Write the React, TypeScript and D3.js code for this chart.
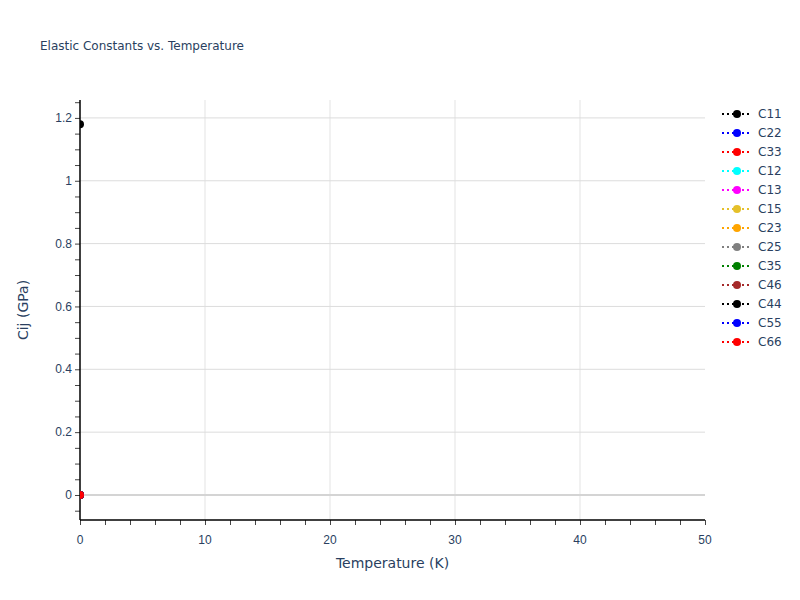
import React, { useEffect, useRef } from 'react';
import * as d3 from 'd3';

// series names and colours, one point per series at T = 0
const seriesNames = ['C11', 'C22', 'C33', 'C12', 'C13', 'C15', 'C23', 'C25', 'C35', 'C46', 'C44', 'C55', 'C66'];
const seriesColors = ['black', 'blue', 'red', 'cyan', 'magenta', '#e5c02a', 'orange', 'gray', 'green', 'brown', 'black', 'blue', 'red'];
const temperatures = [0];
const seriesValues = [[1.18], [0], [0], [0], [0], [0], [0], [0], [0], [0], [0], [0], [0]];
const xTicks = [0, 10, 20, 30, 40, 50];
const yTicks = [0, 0.2, 0.4, 0.6, 0.8, 1, 1.2];

const App: React.FC = () => {
  const svgRef = useRef<SVGSVGElement>(null);

  useEffect(() => {
    if (!svgRef.current) return;
    const width = 800;
    const height = 600;
    const margin = { left: 80, right: 95, top: 100, bottom: 80 };
    const font = '"DejaVu Sans", Verdana, sans-serif';
    const textColor = '#2a3f5f';

    const svg = d3.select(svgRef.current);
    svg.selectAll('*').remove();
    svg.attr('width', width).attr('height', height).style('font-family', font);

    svg.append('rect').attr('width', width).attr('height', height).attr('fill', 'white');

    const x = d3.scaleLinear().domain([0, 50]).range([margin.left, width - margin.right]);
    const y = d3.scaleLinear().domain([-0.0796, 1.257]).range([height - margin.bottom, margin.top]);

    // Title
    svg
      .append('text')
      .attr('x', 40)
      .attr('y', 50)
      .attr('font-size', '12px')
      .attr('fill', textColor)
      .text('Elastic Constants vs. Temperature');

    // Grid
    svg
      .append('g')
      .selectAll('line')
      .data(xTicks.filter(d => d > 0 && d < 50))
      .enter()
      .append('line')
      .attr('x1', d => x(d))
      .attr('x2', d => x(d))
      .attr('y1', margin.top)
      .attr('y2', height - margin.bottom)
      .attr('stroke', '#e3e3e3')
      .attr('stroke-width', 1);

    svg
      .append('g')
      .selectAll('line')
      .data(yTicks.filter(d => d !== 0))
      .enter()
      .append('line')
      .attr('x1', margin.left)
      .attr('x2', width - margin.right)
      .attr('y1', d => y(d))
      .attr('y2', d => y(d))
      .attr('stroke', '#dcdcdc')
      .attr('stroke-width', 1);

    // zero line
    svg
      .append('line')
      .attr('x1', margin.left)
      .attr('x2', width - margin.right)
      .attr('y1', y(0))
      .attr('y2', y(0))
      .attr('stroke', '#d4d4d4')
      .attr('stroke-width', 2);

    // Axes
    const xAxis = svg.append('g').attr('transform', `translate(0,${height - margin.bottom})`);
    xAxis
      .call(d3.axisBottom(x).tickValues(d3.range(0, 51, 2)).tickSize(5).tickFormat(() => ''))
      .call(g => g.select('.domain').remove());
    xAxis.selectAll('line').attr('stroke', '#444');
    xAxis
      .append('line')
      .attr('x1', margin.left)
      .attr('x2', width - margin.right)
      .attr('stroke', 'black')
      .attr('stroke-width', 1.5);
    xAxis
      .selectAll('.lbl')
      .data(xTicks)
      .enter()
      .append('text')
      .attr('class', 'lbl')
      .attr('x', d => x(d))
      .attr('y', 24)
      .attr('text-anchor', 'middle')
      .attr('font-size', '12px')
      .attr('fill', textColor)
      .text(d => d3.format('')(d));

    const yAxis = svg.append('g').attr('transform', `translate(${margin.left},0)`);
    yAxis
      .call(d3.axisLeft(y).tickValues(d3.range(-0.05, 1.26, 0.05)).tickSize(5).tickFormat(() => ''))
      .call(g => g.select('.domain').remove());
    yAxis.selectAll('line').attr('stroke', '#444');
    yAxis
      .append('line')
      .attr('y1', margin.top)
      .attr('y2', height - margin.bottom)
      .attr('stroke', 'black')
      .attr('stroke-width', 1.5);
    yAxis
      .selectAll('.lbl')
      .data(yTicks)
      .enter()
      .append('text')
      .attr('class', 'lbl')
      .attr('x', -8)
      .attr('y', d => y(d))
      .attr('dy', '0.35em')
      .attr('text-anchor', 'end')
      .attr('font-size', '12px')
      .attr('fill', textColor)
      .text(d => d3.format('')(d));

    // Axis titles
    svg
      .append('text')
      .attr('x', (margin.left + width - margin.right) / 2)
      .attr('y', 568)
      .attr('text-anchor', 'middle')
      .attr('font-size', '14px')
      .attr('fill', textColor)
      .text('Temperature (K)');

    svg
      .append('text')
      .attr('transform', `translate(28,${(margin.top + height - margin.bottom) / 2}) rotate(-90)`)
      .attr('text-anchor', 'middle')
      .attr('font-size', '14px')
      .attr('fill', textColor)
      .text('Cij (GPa)');

    // Data
    svg
      .append('clipPath')
      .attr('id', 'plot-clip')
      .append('rect')
      .attr('x', margin.left)
      .attr('y', margin.top)
      .attr('width', width - margin.left - margin.right)
      .attr('height', height - margin.top - margin.bottom);

    const plot = svg.append('g').attr('clip-path', 'url(#plot-clip)');
    const line = d3
      .line<number>()
      .x((_, i) => x(temperatures[i]))
      .y(d => y(d));

    seriesNames.forEach((name, si) => {
      const vals = seriesValues[si];
      plot
        .append('path')
        .datum(vals)
        .attr('d', line)
        .attr('fill', 'none')
        .attr('stroke', seriesColors[si])
        .attr('stroke-width', 2)
        .attr('stroke-dasharray', '2,3');
      plot
        .selectAll(`.pt-${name}`)
        .data(vals)
        .enter()
        .append('circle')
        .attr('cx', (_, i) => x(temperatures[i]))
        .attr('cy', d => y(d))
        .attr('r', 4)
        .attr('fill', seriesColors[si]);
    });

    // Legend
    const legend = svg
      .selectAll('.legend')
      .data(seriesNames)
      .enter()
      .append('g')
      .attr('class', 'legend')
      .attr('transform', (_, i) => `translate(722,${114 + i * 19})`);

    legend
      .append('line')
      .attr('x1', 0)
      .attr('x2', 30)
      .attr('stroke', (_, i) => seriesColors[i])
      .attr('stroke-width', 2)
      .attr('stroke-dasharray', '2,3');
    legend
      .append('circle')
      .attr('cx', 15)
      .attr('r', 4)
      .attr('fill', (_, i) => seriesColors[i]);
    legend
      .append('text')
      .attr('x', 36)
      .attr('dy', '0.35em')
      .attr('font-size', '12px')
      .attr('fill', textColor)
      .text(d => d);
  }, []);

  return <svg ref={svgRef} style={{ display: 'block', margin: -8 }} />;
};

export default App;
